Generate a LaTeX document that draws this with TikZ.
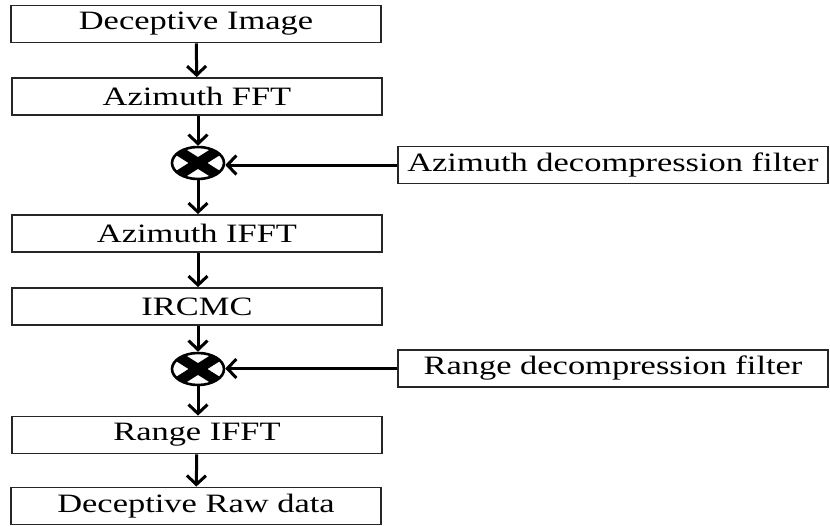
\documentclass[tikz,border=0pt]{standalone}
\usepackage{fontspec}
\setmainfont{Liberation Serif}[FakeStretch=1.3]
\usetikzlibrary{arrows.meta,shapes.geometric}
\begin{document}
\begin{tikzpicture}[x=1pt,y=-1pt,
  box/.style={draw=black!85,line width=1.8pt,minimum width=370pt,minimum height=37pt,inner sep=0pt,font=\fontsize{26.5}{30}\selectfont},
  fbox/.style={box,minimum width=430pt},
  mult/.style={ellipse,draw=black,line width=2.6pt,fill=white,minimum width=52pt,minimum height=32pt,inner sep=0pt},
  flow/.style={line width=3pt,-{Straight Barb[length=9pt,width=19pt,line width=3pt]}}
]
\useasboundingbox (0,0) rectangle (830,527);
\node[box] (a) at (196,24) {Deceptive Image};
\node[box] (b) at (197,96.5) {Azimuth FFT};
\node[mult] (m1) at (198,163) {};
\node[box] (c) at (197,233.5) {Azimuth IFFT};
\node[box] (d) at (197,306.5) {IRCMC};
\node[mult] (m2) at (198,369) {};
\node[box] (e) at (197,435) {Range IFFT};
\node[box] (f) at (196,506) {Deceptive Raw data};
\node[fbox] (fa) at (613,165) {Azimuth decompression filter};
\node[fbox] (fr) at (613,368.5) {Range decompression filter};
\foreach \m in {m1,m2}{
  \begin{scope}
    \clip (\m.center) ellipse (25pt and 15pt);
    \draw[line width=10pt] ([shift={(-27,-17)}]\m.center) -- ([shift={(27,17)}]\m.center);
    \draw[line width=10pt] ([shift={(-27,17)}]\m.center) -- ([shift={(27,-17)}]\m.center);
  \end{scope}
}
\draw[flow] (a) -- (b);
\draw[flow] (b.south -| m1) -- (m1);
\draw[flow] (m1) -- (c.north -| m1);
\draw[flow] (c.south -| m1) -- (d.north -| m1);
\draw[flow] (d.south -| m1) -- (m2);
\draw[flow] (m2) -- (e.north -| m2);
\draw[flow] (e) -- (f);
\draw[flow] (fa.west) -- (m1.east |- fa.west);
\draw[flow] (fr.west) -- (m2.east |- fr.west);
\end{tikzpicture}
\end{document}
